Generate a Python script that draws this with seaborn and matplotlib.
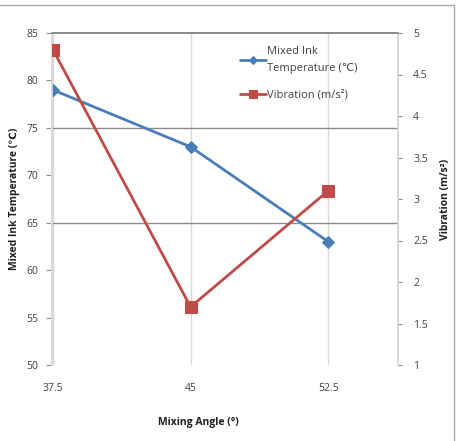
import matplotlib
matplotlib.use("Agg")
import matplotlib.pyplot as plt
import seaborn as sns
import pandas as pd
from matplotlib.lines import Line2D

angles = [37.5, 45, 52.5]
angle_labels = ["37.5", "45", "52.5"]
temperature = [79, 73, 63]
vibration = [4.8, 1.7, 3.1]
temp_ticks = [50, 55, 60, 65, 70, 75, 80, 85]
vib_ticks = [1, 1.5, 2, 2.5, 3, 3.5, 4, 4.5, 5]
vib_tick_labels = ["1", "1.5", "2", "2.5", "3", "3.5", "4", "4.5", "5"]

sns.set_theme(style="white")
plt.rcParams['font.family'] = ['Open Sans', 'DejaVu Sans']

blue = "#4a7ebb"
red = "#be4b48"
txt = "#404040"

df = pd.DataFrame({"angle": angles, "temp": temperature, "vib": vibration})

fig = plt.figure(figsize=(4.57, 4.41), dpi=100)
ax = fig.add_axes([52/457, 1-365/441, (398-52)/457, (365-33)/441])
ax2 = ax.twinx()

# grid
for x in angles:
    ax.axvline(x, color="#d9d9d9", lw=1.0, zorder=0)
for y in [65, 75]:
    ax.axhline(y, color="#8c8c8c", lw=1.0, zorder=0)

sns.lineplot(data=df, x="angle", y="temp", ax=ax, color=blue, marker="D",
             markersize=6, markeredgecolor=blue, lw=2, label="Mixed Ink\nTemperature (℃)",
             legend=False, zorder=3)
sns.lineplot(data=df, x="angle", y="vib", ax=ax2, color=red, marker="s",
             markersize=8, markeredgecolor=red, lw=2, label="Vibration (m/s²)",
             legend=False, zorder=3)

ax.set_xlim(37.45, 56.3)
ax.set_ylim(50, 85)
ax2.set_ylim(1, 5)
ax.set_xticks(angles)
ax.set_xticklabels(angle_labels)
ax.set_yticks(temp_ticks)
ax2.set_yticks(vib_ticks)
ax2.set_yticklabels(vib_tick_labels)

for a in (ax, ax2):
    a.spines["bottom"].set_visible(False)
    a.spines["top"].set_color("#8c8c8c")
    a.spines["left"].set_color("#d9d9d9")
    a.spines["right"].set_color("#d9d9d9")
    a.tick_params(labelsize=7.5, colors=txt)

ax.tick_params(axis="y", left=True, length=4, width=0.8, color="#8c8c8c", pad=6)
ax.tick_params(axis="x", bottom=False, pad=7)
ax2.tick_params(axis="y", right=True, length=3, width=0.8, color="#8c8c8c", pad=8)

ax.set_xlabel("Mixing Angle (°)", fontsize=7.5, fontweight="bold", color="#202020")
ax.xaxis.set_label_coords((198-52)/(398-52), -0.155)
ax.set_ylabel("Mixed Ink Temperature (℃)", fontsize=7.5, fontweight="bold", color="#202020")
ax.yaxis.set_label_coords(-0.092, 0.5)
ax2.set_ylabel("Vibration (m/s²)", fontsize=7.5, fontweight="bold", color="#202020")
ax2.yaxis.set_label_coords(1.12, 0.5)

h1, l1 = ax.get_legend_handles_labels()
h2, l2 = ax2.get_legend_handles_labels()
leg = ax2.legend(h1 + h2, l1 + l2, loc="upper left",
                 bbox_to_anchor=(240/457, 1-46/441), bbox_transform=fig.transFigure,
                 frameon=False, fontsize=8, handlelength=2.3, handletextpad=0.15,
                 labelspacing=1.4, borderaxespad=0, borderpad=0, markerscale=0.7)
for t in leg.get_texts():
    t.set_color(txt)
    t.set_linespacing(1.8)

fig.add_artist(Line2D([0, 454/457], [1-5/441, 1-5/441], transform=fig.transFigure,
                      color="#a6a6a6", lw=1))
fig.add_artist(Line2D([454/457, 454/457], [0, 1-5/441], transform=fig.transFigure,
                      color="#a6a6a6", lw=1))

fig.savefig("out.png", dpi=100)
